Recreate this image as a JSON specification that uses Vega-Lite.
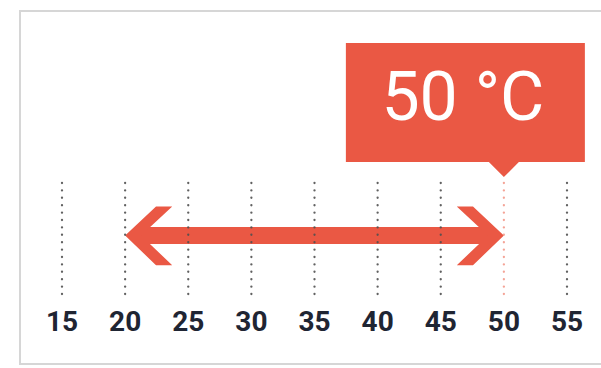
{
  "$schema": "https://vega.github.io/schema/vega-lite/v6.json",
  "width": 600,
  "height": 353,
  "autosize": "none",
  "padding": {"left": 20, "top": 11, "right": 0, "bottom": 4},
  "background": "white",
  "config": {"view": {"stroke": "#d6d6d6", "strokeWidth": 2}},
  "datasets": {
    "ticks": [{"t": 15}, {"t": 20}, {"t": 25}, {"t": 30}, {"t": 35}, {"t": 40}, {"t": 45}, {"t": 50}, {"t": 55}],
    "range": [{"low": 20, "high": 50}],
    "current": [{"temp": 50, "label": "50 °C"}]
  },
  "layer": [
    {
      "data": {"name": "range"},
      "mark": {"type": "rule", "strokeWidth": 17, "strokeCap": "butt", "color": "#ea5844", "xOffset": 12, "x2Offset": -12},
      "encoding": {
        "x": {"field": "low", "type": "quantitative", "scale": {"domain": [11.673, 59.198], "nice": false, "zero": false}, "axis": null},
        "x2": {"field": "high"},
        "y": {"datum": 0.5, "type": "quantitative", "scale": {"domain": [-0.598, 2.419], "nice": false, "zero": false}, "axis": null}
      }
    },
    {
      "data": {"name": "range"},
      "mark": {"type": "point", "filled": true, "opacity": 1, "color": "#ea5844", "strokeWidth": 0, "size": 3600,
        "shape": "M0,0 L1.03,-0.97 L1.57,-0.97 L0.53,0 L1.57,0.99 L1.03,0.99 Z"},
      "encoding": {
        "x": {"field": "low", "type": "quantitative", "scale": {"domain": [11.673, 59.198], "nice": false, "zero": false}, "axis": null},
        "y": {"datum": 0.5, "type": "quantitative", "scale": {"domain": [-0.598, 2.419], "nice": false, "zero": false}, "axis": null}
      }
    },
    {
      "data": {"name": "range"},
      "mark": {"type": "point", "filled": true, "opacity": 1, "color": "#ea5844", "strokeWidth": 0, "size": 3600,
        "shape": "M0,0 L-1.03,-0.97 L-1.57,-0.97 L-0.53,0 L-1.57,0.99 L-1.03,0.99 Z"},
      "encoding": {
        "x": {"field": "high", "type": "quantitative", "scale": {"domain": [11.673, 59.198], "nice": false, "zero": false}, "axis": null},
        "y": {"datum": 0.5, "type": "quantitative", "scale": {"domain": [-0.598, 2.419], "nice": false, "zero": false}, "axis": null}
      }
    },
    {
      "data": {"name": "ticks"},
      "mark": {"type": "rule", "strokeWidth": 2.3, "strokeCap": "round", "strokeDash": [0.1, 7.3], "opacity": 0.9},
      "encoding": {
        "x": {"field": "t", "type": "quantitative", "scale": {"domain": [11.673, 59.198], "nice": false, "zero": false}, "axis": null},
        "y": {"datum": 0, "type": "quantitative", "scale": {"domain": [-0.598, 2.419], "nice": false, "zero": false}, "axis": null},
        "y2": {"datum": 1},
        "color": {"condition": {"test": "datum.t === 50", "value": "#f39a8c"}, "value": "#505050"}
      }
    },
    {
      "data": {"name": "ticks"},
      "mark": {"type": "text", "font": "Roboto", "fontWeight": "bold", "fontSize": 28, "color": "#1f2533", "align": "center", "baseline": "alphabetic"},
      "encoding": {
        "x": {"field": "t", "type": "quantitative", "scale": {"domain": [11.673, 59.198], "nice": false, "zero": false}, "axis": null},
        "y": {"datum": -0.316, "type": "quantitative", "scale": {"domain": [-0.598, 2.419], "nice": false, "zero": false}, "axis": null},
        "text": {"field": "t", "type": "quantitative"}
      }
    },
    {
      "data": {"name": "current"},
      "mark": {"type": "point", "filled": true, "opacity": 1, "color": "#ea5844", "strokeWidth": 0, "size": 40000,
        "shape": "M-1.58,-1.34 L0.81,-1.34 L0.81,-0.15 L0.15,-0.15 L0,0 L-0.15,-0.15 L-1.58,-0.15 Z"},
      "encoding": {
        "x": {"field": "temp", "type": "quantitative", "scale": {"domain": [11.673, 59.198], "nice": false, "zero": false}, "axis": null},
        "y": {"datum": 1, "type": "quantitative", "scale": {"domain": [-0.598, 2.419], "nice": false, "zero": false}, "axis": null}
      }
    },
    {
      "data": {"name": "current"},
      "mark": {"type": "text", "font": "Roboto", "fontSize": 68, "color": "white", "align": "center", "baseline": "alphabetic", "dx": -41, "dy": -57},
      "encoding": {
        "x": {"field": "temp", "type": "quantitative", "scale": {"domain": [11.673, 59.198], "nice": false, "zero": false}, "axis": null},
        "y": {"datum": 1, "type": "quantitative", "scale": {"domain": [-0.598, 2.419], "nice": false, "zero": false}, "axis": null},
        "text": {"field": "label"}
      }
    }
  ]
}
